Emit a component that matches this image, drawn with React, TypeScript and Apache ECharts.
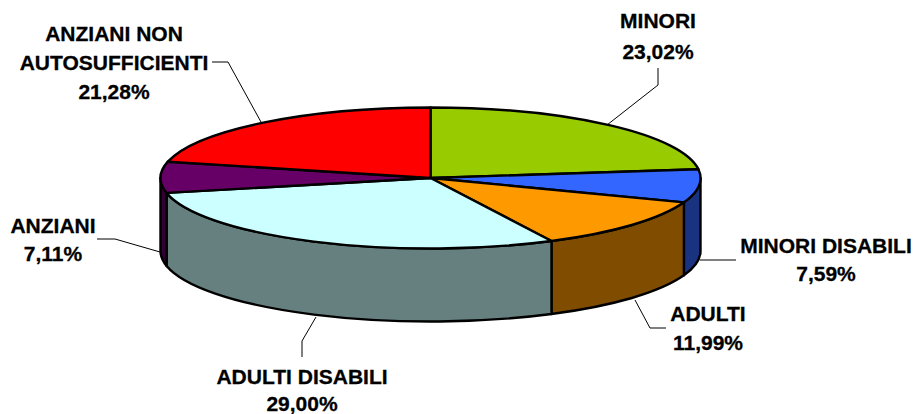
import React, { useEffect, useRef } from "react";
import * as echarts from "echarts";

const categories = ["MINORI", "MINORI DISABILI", "ADULTI", "ADULTI DISABILI", "ANZIANI", "ANZIANI NON AUTOSUFFICIENTI"];
const values = [23.02, 7.59, 11.99, 29.0, 7.11, 21.28];
const valueLabels = ["23,02%", "7,59%", "11,99%", "29,00%", "7,11%", "21,28%"];
const topColors = ["#99CC00", "#3366FF", "#FF9900", "#CCFFFF", "#660066", "#FF0000"];
const sideColors = ["#4D6600", "#1A3380", "#804D00", "#668080", "#330033", "#800000"];

const CX = 430.5;
const CY = 178;
const RX = 270;
const RY = 70.5;
const DEPTH = 73;
const FONT = "'Liberation Sans', Arial, sans-serif";
const FONT_SIZE = 21;

const total = values.reduce((a, b) => a + b, 0);
const pt = (deg: number, dy = 0): [number, number] => {
  const r = (deg * Math.PI) / 180;
  return [CX + RX * Math.sin(r), CY - RY * Math.cos(r) + dy];
};
const startDeg = (i: number) => (values.slice(0, i).reduce((a, b) => a + b, 0) / total) * 360;
const endDeg = (i: number) => startDeg(i) + (values[i] / total) * 360;

function topPath(a: number, b: number): string {
  const [x0, y0] = pt(a);
  const [x1, y1] = pt(b);
  return `M${CX} ${CY}L${x0} ${y0}A${RX} ${RY} 0 ${b - a > 180 ? 1 : 0} 1 ${x1} ${y1}Z`;
}
function sidePath(a: number, b: number): string {
  const s = Math.max(a, 90);
  const e = Math.min(b, 270);
  if (e <= s) return "";
  const [x0, y0] = pt(s);
  const [x1, y1] = pt(e);
  return `M${x0} ${y0}A${RX} ${RY} 0 0 1 ${x1} ${y1}L${x1} ${y1 + DEPTH}A${RX} ${RY} 0 0 0 ${x0} ${y0 + DEPTH}Z`;
}

const labelLayout = [
  { i: 0, x: 658, ys: [20.5, 51], line: [[658, 68], [658, 85], [607, 125]] },
  { i: 1, x: 826, ys: [245, 273], line: [[736, 260], [700, 260]] },
  { i: 2, x: 708, ys: [313, 342], line: [[666, 328], [650, 328], [635, 300]] },
  { i: 3, x: 302, ys: [376, 403.4], line: [[302, 357], [302, 341], [316, 317]] },
  { i: 4, x: 53, ys: [225, 253], line: [[97, 239], [115, 239], [160, 252]] },
  { i: 5, x: 114, ys: [33.5, 62, 91], line: [[212, 62], [228, 62], [261, 122]] },
];

function labelLines(i: number): string[] {
  if (i === 5) return ["ANZIANI NON", "AUTOSUFFICIENTI", valueLabels[i]];
  return [categories[i], valueLabels[i]];
}

export default function App() {
  const ref = useRef<HTMLDivElement>(null);
  useEffect(() => {
    const chart = echarts.init(ref.current!, null, { renderer: "svg" });
    const graphics: any[] = [];
    labelLayout.forEach((l) => {
      graphics.push({
        type: "polyline",
        z: 5,
        shape: { points: l.line },
        style: { stroke: "#000", lineWidth: 1, fill: "none" },
      });
      labelLines(l.i).forEach((t, k) => {
        graphics.push({
          type: "text",
          z: 6,
          x: l.x,
          y: l.ys[k],
          style: {
            text: t,
            fill: "#000",
            stroke: "#000",
            lineWidth: 0.3,
            font: `bold ${FONT_SIZE}px ${FONT}`,
            align: "center",
            verticalAlign: "middle",
          },
        });
      });
    });
    const data = values.map((v, i) => ({ name: categories[i], value: [i, v] }));
    chart.setOption({
      animation: false,
      backgroundColor: "#fff",
      series: [
        {
          type: "custom",
          name: "sides",
          coordinateSystem: "none",
          z: 1,
          silent: true,
          data,
          renderItem: (_p: any, api: any) => {
            const i = api.value(0);
            const d = sidePath(startDeg(i), endDeg(i));
            if (!d) return { type: "group", children: [] };
            return {
              type: "path",
              shape: { pathData: d },
              style: { fill: sideColors[i], stroke: "#000", lineWidth: 2.4, lineJoin: "round" },
            };
          },
        },
        {
          type: "custom",
          name: "tops",
          coordinateSystem: "none",
          z: 2,
          silent: true,
          data,
          renderItem: (_p: any, api: any) => {
            const i = api.value(0);
            return {
              type: "path",
              shape: { pathData: topPath(startDeg(i), endDeg(i)) },
              style: { fill: topColors[i], stroke: "#000", lineWidth: 2.4, lineJoin: "round" },
            };
          },
        },
      ],
      graphic: graphics,
    });
    return () => chart.dispose();
  }, []);
  return <div ref={ref} style={{ position: "absolute", left: 0, top: 0, width: 915, height: 414 }} />;
}
